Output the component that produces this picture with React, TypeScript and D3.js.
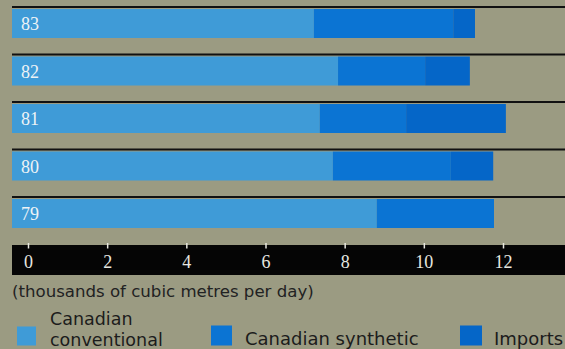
import React from "react";
import * as d3 from "d3";

// Daily supply by source, thousands of cubic metres per day
const years = ["83", "82", "81", "80", "79"];
const conventional = [7.21, 7.82, 7.36, 7.69, 8.8];
const synthetic = [3.52, 2.2, 2.18, 2.98, 2.96];
const imports = [0.55, 1.13, 2.52, 1.07, 0];
const ticks = [0, 2, 4, 6, 8, 10, 12];
const seriesNames = ["Canadian conventional", "Canadian synthetic", "Imports"];
const seriesColors = ["#3f9bd7", "#0b74d3", "#0566c8"];

const W = 565;
const H = 349;
const LEFT = 12;
const BG = "#9b9b82";

export default function App() {
  const x = d3.scaleLinear().domain([0, 12]).range([28.5, 503.5]);
  const y = d3
    .scaleBand<string>()
    .domain(years)
    .range([7, 7 + 47.5 * years.length])
    .paddingInner(0);

  const rows = years.map((yr, i) => ({
    yr,
    vals: [conventional[i], synthetic[i], imports[i]],
  }));
  const stack = d3
    .stack<any>()
    .keys([0, 1, 2] as any)
    .value((d: any, k: any) => d.vals[k]);
  const layers = stack(rows as any);

  const sans = "'DejaVu Sans', 'Open Sans', sans-serif";
  const serif = "'Liberation Serif', 'DejaVu Serif', serif";

  return (
    <svg
      width={W}
      height={H}
      style={{ position: "absolute", left: 0, top: 0, display: "block" }}
    >
      <rect x={0} y={0} width={W} height={H} fill={BG} />

      {/* row rules */}
      {years.map((yr) => (
        <line
          key={"rule" + yr}
          x1={LEFT}
          x2={W}
          y1={y(yr)!}
          y2={y(yr)!}
          stroke="#111"
          strokeWidth={2}
        />
      ))}

      {/* stacked bars */}
      {layers.map((layer, li) =>
        layer.map((seg: any, i: number) => {
          const yr = years[i];
          const x0 = li === 0 ? LEFT : x(seg[0]);
          const x1 = x(seg[1]);
          if (x1 - x0 <= 0) return null;
          return (
            <rect
              key={li + "-" + yr}
              x={x0}
              y={y(yr)! + 2}
              width={x1 - x0}
              height={29}
              fill={seriesColors[li]}
            />
          );
        })
      )}

      {/* year labels */}
      {years.map((yr) => (
        <text
          key={"lab" + yr}
          x={21}
          y={y(yr)! + 23}
          fill="#eef3f6"
          fontFamily={serif}
          fontSize={18}
        >
          {yr}
        </text>
      ))}

      {/* axis band */}
      <rect x={LEFT} y={245} width={W - LEFT} height={30} fill="#050505" />
      {ticks.map((t) => (
        <g key={"t" + t}>
          <line
            x1={x(t)}
            x2={x(t)}
            y1={243}
            y2={248.5}
            stroke="#e8e8e0"
            strokeWidth={1.5}
          />
          <text
            x={x(t)}
            y={268}
            textAnchor="middle"
            fill="#e8e8e0"
            fontFamily={serif}
            fontSize={18}
          >
            {t}
          </text>
        </g>
      ))}

      <text x={12} y={297} fill="#222" fontFamily={sans} fontSize={16.6}>
        (thousands of cubic metres per day)
      </text>

      {/* legend */}
      <rect x={17} y={326.5} width={19} height={19} fill={seriesColors[0]} />
      <text x={50} y={325} fill="#1c1c1c" fontFamily={sans} fontSize={17.5}>
        Canadian
      </text>
      <text x={50} y={345.5} fill="#1c1c1c" fontFamily={sans} fontSize={17.5}>
        conventional
      </text>
      <rect x={211} y={325.5} width={21} height={20} fill={seriesColors[1]} />
      <text x={245} y={345} fill="#1c1c1c" fontFamily={sans} fontSize={18}>
        {seriesNames[1]}
      </text>
      <rect x={460} y={325.5} width={22} height={20} fill={seriesColors[2]} />
      <text x={494} y={345} fill="#1c1c1c" fontFamily={sans} fontSize={18}>
        {seriesNames[2]}
      </text>
    </svg>
  );
}
